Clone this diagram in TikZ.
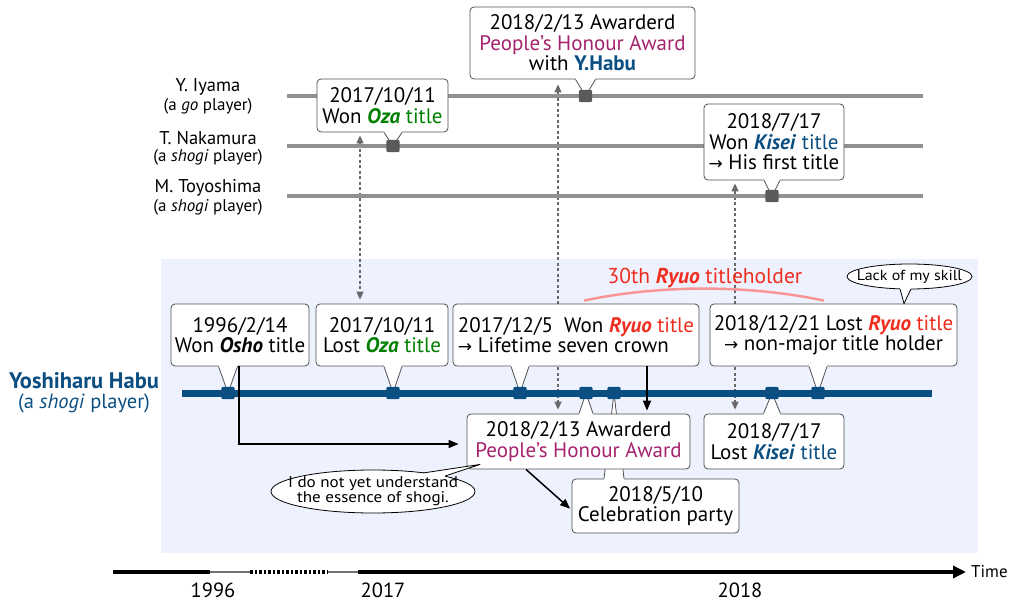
\documentclass[tikz,border=0pt]{standalone}
\usepackage{fontspec}
\setmainfont{PT Sans}
\newfontfamily\arrowfont{DejaVu Sans}
\newfontfamily\widefont[FakeStretch=1.1]{PT Sans}
\usetikzlibrary{arrows.meta}

\definecolor{habublue}{RGB}{10,78,130}
\definecolor{ozagreen}{RGB}{0,128,0}
\definecolor{ryuored}{RGB}{240,45,30}
\definecolor{awardpurple}{RGB}{165,35,110}
\definecolor{arcpink}{RGB}{248,150,150}
\definecolor{bgblue}{RGB}{238,242,254}
\definecolor{linegray}{RGB}{145,145,145}
\definecolor{markgray}{RGB}{90,90,90}
\definecolor{boxgray}{RGB}{80,80,80}
\definecolor{dashgray}{RGB}{105,105,105}

\pgfdeclarelayer{under}
\pgfsetlayers{under,main}

% pointer of a callout box: #1 box, #2 box anchor, #3 marker, #4 half base width, #5 inward shift
\newcommand\callptr[5]{%
  \fill[white] ([xshift=-#4pt]#3.center |- #1.#2) -- (#3.center) -- ([xshift=#4pt]#3.center |- #1.#2)
    -- ([xshift=#4pt,yshift=#5]#3.center |- #1.#2) -- ([xshift=-#4pt,yshift=#5]#3.center |- #1.#2) -- cycle;
  \draw[boxline] ([xshift=-#4pt]#3.center |- #1.#2) -- (#3.center) -- ([xshift=#4pt]#3.center |- #1.#2);
}
\newcommand\rarr{{\arrowfont\fontsize{17}{20}\selectfont →}}
\newcommand\bi[1]{\textbf{\textit{#1}}}

\begin{document}
\begin{tikzpicture}[x=1pt,y=-1pt,
  boxline/.style={draw=boxgray, line width=0.8pt, line join=round},
  callout/.style={draw=boxgray, line width=0.8pt, fill=white, rounded corners=4pt,
    align=center, inner sep=1pt, font=\fontsize{21}{20.5}\selectfont},
  markspot/.style={minimum width=13pt, minimum height=12pt, inner sep=0pt},
  playerline/.style={linegray, line width=4.5pt},
  habuline/.style={habublue, line width=7pt},
  crossarrow/.style={dashgray, line width=1.3pt, dash pattern=on 3pt off 2.5pt,
    {Triangle[length=8pt,width=7pt]}-{Triangle[length=8pt,width=7pt]}},
  flow/.style={black, line width=1.5pt, -{Triangle[length=10pt,width=8pt]}},
  playername/.style={align=center, inner sep=0pt},
  bubble/.style={draw=black, line width=0.8pt, fill=white},
  bubbletext/.style={align=center, inner sep=0pt},
  axisline/.style={black, line width=3.5pt},
  year/.style={inner sep=0pt, font=\fontsize{20.5}{20}\selectfont}
]
\useasboundingbox (0,0) rectangle (1010,602);

% player names
\node[playername, font=\fontsize{18.5}{18}\selectfont] (iyama) at (208,87) {Y. Iyama};
\node[playername, font=\fontsize{17}{17}\selectfont] (iyamasub) at (208,106.5) {(a \textit{go} player)};
\node[playername, font=\fontsize{18.5}{18}\selectfont] (nakamura) at (208,138) {T. Nakamura};
\node[playername, font=\fontsize{17}{17}\selectfont] (nakamurasub) at (208,157) {(a \textit{shogi} player)};
\node[playername, font=\fontsize{18.5}{18}\selectfont] (toyoshima) at (208,188) {M. Toyoshima};
\node[playername, font=\fontsize{17}{17}\selectfont] (toyoshimasub) at (208,207) {(a \textit{shogi} player)};
\node[playername, text=habublue, font=\bfseries\fontsize{22.5}{22}\selectfont] (habu) at (84,381) {Yoshiharu Habu};
\node[playername, text=habublue, font=\fontsize{20.5}{20}\selectfont] (habusub) at (84,403) {(a \textit{shogi} player)};

% event markers (filled at the end)
\node[markspot] (mIy) at (585.5,96) {};
\node[markspot] (mNa) at (393,146) {};
\node[markspot] (mTo) at (772,196) {};
\node[markspot] (mA) at (228,393) {};
\node[markspot] (mB) at (393,393) {};
\node[markspot] (mC) at (520,393) {};
\node[markspot] (mD) at (586,393) {};
\node[markspot] (mE) at (614,393) {};
\node[markspot] (mF) at (772,393) {};
\node[markspot] (mG) at (818,393) {};

% callouts of the other players
\node[callout, minimum width=131pt, minimum height=53pt] (ozaWon) at (382.5,105.5)
  {2017/10/11\\Won \textcolor{ozagreen}{\bi{Oza} title}};
\callptr{ozaWon}{south}{mNa}{9}{1.5pt}
\node[callout, minimum width=225pt, minimum height=72pt] (awardTop) at (582.5,43)
  {2018/2/13 Awarderd\\\textcolor{awardpurple}{People’s Honour Award}\\with \textcolor{habublue}{\textbf{Y.Habu}}};
\callptr{awardTop}{south}{mIy}{10}{1.5pt}
\node[callout, minimum width=140pt, minimum height=76pt] (kiseiWon) at (774,142)
  {2018/7/17\\Won \textcolor{habublue}{\bi{Kisei} title}\\\rarr\ His first title};
\callptr{kiseiWon}{south}{mTo}{8}{1.5pt}

% Habu's callouts
\node[callout, minimum width=138pt, minimum height=62pt] (oshoBox) at (240,335)
  {1996/2/14\\Won \bi{Osho} title};
\callptr{oshoBox}{south}{mA}{9.5}{1.5pt}
\node[callout, minimum width=132pt, minimum height=62pt] (ozaLost) at (382,335)
  {2017/10/11\\Lost \textcolor{ozagreen}{\bi{Oza} title}};
\callptr{ozaLost}{south}{mB}{9}{1.5pt}
\node[callout, align=left, minimum width=246pt, minimum height=62pt] (ryuoWon) at (576,335)
  {2017/12/5\ \ Won \textcolor{ryuored}{\bi{Ryuo} title}\\\rarr\ Lifetime seven crown};
\callptr{ryuoWon}{south}{mC}{9}{1.5pt}
\node[callout, minimum width=247pt, minimum height=62pt] (ryuoLost) at (833.5,335)
  {2018/12/21 Lost \textcolor{ryuored}{\bi{Ryuo} title}\\\rarr\ non-major title holder};
\callptr{ryuoLost}{south}{mG}{9}{1.5pt}

\node[callout, minimum width=167pt, minimum height=54pt] (celeb) at (655.5,506)
  {2018/5/10\\Celebration party};
\callptr{celeb}{north}{mE}{10}{-1.5pt}
\node[callout, minimum width=223pt, minimum height=55pt] (awardLow) at (578.5,441.5)
  {2018/2/13 Awarderd\\\textcolor{awardpurple}{People’s Honour Award}};
\callptr{awardLow}{north}{mD}{7}{-1.5pt}
\node[callout, minimum width=140pt, minimum height=55pt] (kiseiLost) at (774,441.5)
  {2018/7/17\\Lost \textcolor{habublue}{\bi{Kisei} title}};
\callptr{kiseiLost}{north}{mF}{8.5}{-1.5pt}

% panel, cross-player links and timelines lie under the callouts
\begin{pgfonlayer}{under}
\fill[bgblue] (161,259) rectangle (978,553);
\draw[crossarrow, shorten <=3pt, shorten >=4pt] ([xshift=-22.5pt]ozaWon.south) -- ([xshift=-22.5pt]ozaWon.south |- ozaLost.north);
\draw[crossarrow, shorten <=5pt, shorten >=4pt] ([xshift=-24.5pt]awardTop.south) -- ([xshift=-24.5pt]awardTop.south |- awardLow.north);
\draw[crossarrow, shorten <=3pt, shorten >=4pt] ([xshift=-39pt]kiseiWon.south) -- ([xshift=-39pt]kiseiWon.south |- kiseiLost.north);
\draw[playerline] (287,96) -- (923,96);
\draw[playerline] (287,146) -- (923,146);
\draw[playerline] (287,196) -- (923,196);
\draw[habuline] (182,393) -- (932,393);
\end{pgfonlayer}

% markers on top
\foreach \m in {mIy,mNa,mTo} \fill[markgray, rounded corners=2pt] (\m.north west) rectangle (\m.south east);
\foreach \m in {mA,mB,mC,mD,mE,mF,mG} \fill[habublue, rounded corners=2pt] (\m.north west) rectangle (\m.south east);

% causal arrows
\draw[flow, shorten >=8pt] ([xshift=-1pt]oshoBox.south) |- ([yshift=-2.5pt]awardLow.west);
\draw[flow, shorten >=3pt] ([xshift=71pt]ryuoWon.south) -- ([xshift=71pt]ryuoWon.south |- awardLow.north);
\draw[flow, shorten >=2pt] ([xshift=-52.5pt]awardLow.south) -- ([yshift=-4pt]celeb.west);

% Ryuo tenure
\draw[arcpink, line width=2.5pt] ([xshift=8pt,yshift=3pt]ryuoWon.north)
  .. controls ([xshift=84pt,yshift=19pt]ryuoWon.north) and ([xshift=-85.5pt,yshift=19pt]ryuoLost.north)
  .. ([xshift=-9.5pt,yshift=3pt]ryuoLost.north);
\node[inner sep=0pt, text=ryuored, font=\fontsize{21.5}{21}\selectfont] (ryuoSpan) at (705,278)
  {30th \bi{Ryuo} titleholder};

% speech bubbles
\coordinate (skill) at (909.5,276.5);
\draw[bubble] (skill) ellipse [x radius=62.5pt, y radius=12.5pt];
\fill[white] ([xshift=-9.5pt,yshift=-12.4pt]skill) -- ([xshift=70.5pt]ryuoLost.north)
  -- ([xshift=1.5pt,yshift=-12.4pt]skill) -- ([xshift=1.5pt,yshift=-9pt]skill)
  -- ([xshift=-9.5pt,yshift=-9pt]skill) -- cycle;
\draw[black, line width=0.8pt, line join=round] ([xshift=-9.5pt,yshift=-12.4pt]skill)
  -- ([xshift=70.5pt]ryuoLost.north) -- ([xshift=1.5pt,yshift=-12.4pt]skill);
\node[bubbletext, font=\widefont\fontsize{14.5}{14}\selectfont] (skillText) at (skill) {Lack of my skill};

\coordinate (doubt) at (373,491.5);
\draw[bubble] (doubt) ellipse [x radius=102pt, y radius=21.5pt];
\fill[white] ([xshift=50pt,yshift=18.5pt]doubt) -- ([xshift=13.5pt,yshift=5pt]awardLow.south west)
  -- ([xshift=72pt,yshift=15.5pt]doubt) -- ([xshift=72pt,yshift=12.5pt]doubt)
  -- ([xshift=50pt,yshift=15.5pt]doubt) -- cycle;
\draw[black, line width=0.8pt, line join=round] ([xshift=50pt,yshift=18.5pt]doubt)
  -- ([xshift=13.5pt,yshift=5pt]awardLow.south west) -- ([xshift=72pt,yshift=15.5pt]doubt);
\node[bubbletext, font=\widefont\fontsize{15.5}{13}\selectfont] (doubtText) at (doubt)
  {I do not yet understand\\the essence of shogi.};

% time axis with a break between 1996 and 2017
\coordinate (axA) at (113,572);
\coordinate (axB) at (210,572);
\coordinate (axC) at (250,572);
\coordinate (axD) at (328,572);
\coordinate (axE) at (358,572);
\coordinate (axEnd) at (966,572);
\draw[axisline] (axA) -- (axB);
\draw[black!55, line width=1.5pt] (axB) -- (axC);
\draw[black, line width=3.5pt, dash pattern=on 2.5pt off 2pt] (axC) -- (axD);
\draw[black!55, line width=1.5pt] (axD) -- (axE);
\draw[axisline, -{Triangle[length=13pt,width=12pt]}] (axE) -- (axEnd);
\node[year] (y1996) at (213,590) {1996};
\node[year] (y2017) at (383,590) {2017};
\node[year] (y2018) at (740,590) {2018};
\node[inner sep=0pt, font=\fontsize{17}{17}\selectfont, anchor=west] (timeLabel) at (971,572) {Time};
\end{tikzpicture}
\end{document}
